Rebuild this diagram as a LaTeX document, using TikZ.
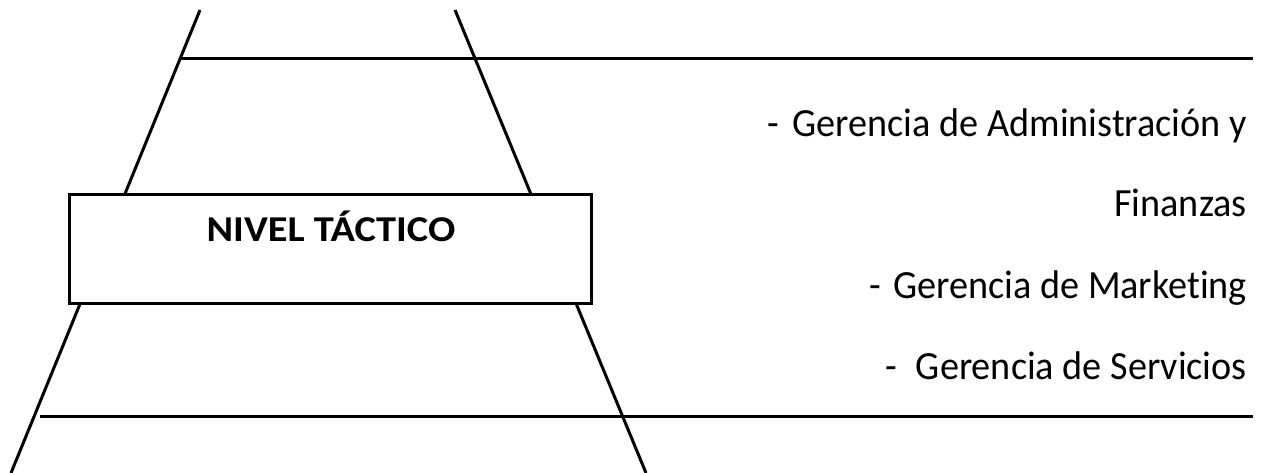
\documentclass[tikz,border=0pt]{standalone}
\usepackage{fontspec}
\setmainfont{Carlito}[Ligatures=NoCommon,FakeStretch=0.955]
\newfontfamily\levelfont{Carlito}[Ligatures=NoCommon,FakeStretch=1.11]
\begin{document}
\begin{tikzpicture}[x=1pt,y=-1pt,
    rule/.style={line width=3pt},
    levelbox/.style={draw,line width=3pt,fill=white,minimum width=522pt,minimum height=108pt,inner sep=0pt},
    title/.style={font=\levelfont\fontsize{36.4}{40}\selectfont\bfseries,anchor=base,inner sep=0pt},
    item/.style={font=\fontsize{40}{44}\selectfont,anchor=base east,inner sep=0pt}]
  \useasboundingbox (0,0) rectangle (1261,473);
  % slanted sides of the level
  \coordinate (lt) at (200,10);
  \coordinate (lb) at (11,473);
  \coordinate (rt) at (455,10);
  \coordinate (rb) at (646,473);
  \draw[rule] (lt) -- (lb);
  \draw[rule] (rt) -- (rb);
  % horizontal separators
  \coordinate (t1) at (181,59);
  \coordinate (t2) at (1253,59);
  \coordinate (b1) at (40,416);
  \coordinate (b2) at (1253,416);
  \draw[rule] (t1) -- (t2);
  \draw[rule] (b1) -- (b2);
  % level box
  \node[levelbox] (box) at (330,249) {};
  \node[title] (lvl) at (331,242) {NIVEL TÁCTICO};
  % list of departments
  \node[item] (i1) at (1247,137) {-\hspace{0.35em}Gerencia de Administración y};
  \node[item] (i2) at (1247,217) {Finanzas};
  \node[item] (i3) at (1247,298) {-\hspace{0.3em}Gerencia de Marketing};
  \node[item] (i4) at (1247,379) {-\hspace{0.47em}Gerencia de Servicios};
\end{tikzpicture}
\end{document}
